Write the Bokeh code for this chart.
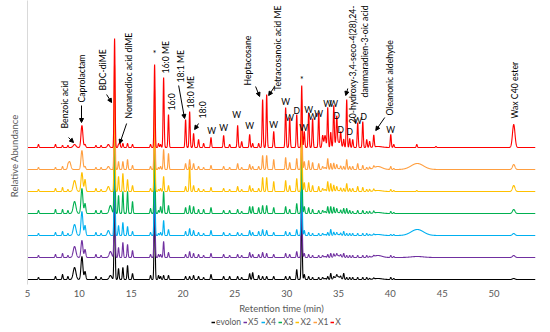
import numpy as np
from bokeh.plotting import figure
from bokeh.layouts import column
from bokeh.models import Range1d, Arrow, NormalHead, Legend, LegendItem, FixedTicker
from bokeh.core.properties import value
from bokeh.embed import file_html
from bokeh.resources import INLINE

# ---------------- data ----------------
series_names = ["evolon", "X5", "X4", "X3", "X2", "X1", "X"]
series_colors = ["#000000", "#7030A0", "#00B0F0", "#00B050", "#FFC000", "#FF9F40", "#FF0000"]

# peak retention times (min) and widths (min)
peak_rt = [6.06, 7.70, 8.38, 8.90, 9.05, 9.54, 10.25, 10.55, 11.6, 12.1, 12.8, 13.0, 13.40, 13.78, 13.9,
           14.2, 14.65, 15.13, 16.87, 17.26, 17.64, 17.84, 18.13, 18.6, 20.25, 20.64, 21.02, 21.5, 21.99,
           22.7, 23.92, 24.5, 25.27, 25.66, 26.43, 26.72, 27.3, 27.68, 28.07, 28.75, 29.90, 30.29, 30.97,
           31.45, 31.7, 32.12, 32.5, 33.09, 33.47, 33.7, 33.96, 34.25, 34.54, 34.83, 34.9, 35.21, 35.5,
           35.79, 36.08, 36.37, 36.85, 37.34, 37.72, 38.0, 38.4, 38.8, 40.04, 40.33, 42.55, 42.6, 44.4, 51.9]
peak_sigma = [0.05, 0.05, 0.05, 0.05, 0.12, 0.13, 0.09, 0.07, 0.05, 0.05, 0.1, 0.12, 0.05, 0.05, 0.05,
              0.05, 0.05, 0.05, 0.05, 0.05, 0.05, 0.05, 0.05, 0.05, 0.05, 0.05, 0.05, 0.05, 0.05,
              0.05, 0.05, 0.05, 0.05, 0.05, 0.05, 0.05, 0.05, 0.05, 0.05, 0.05, 0.05, 0.05, 0.05,
              0.05, 0.05, 0.05, 0.05, 0.05, 0.06, 0.08, 0.05, 0.05, 0.05, 0.05, 0.25, 0.05, 0.05,
              0.05, 0.05, 0.05, 0.05, 0.05, 0.05, 0.05, 0.05, 0.4, 0.05, 0.05, 0.05, 0.6, 0.05, 0.12]

h_X = [3, 3, 2, 2, 0, 3, 22, 3, 2, 2, 3, 0, 109, 3, 5,
       4, 4, 3, 3, 83, 4, 3, 70, 33, 28, 36, 14, 8, 4,
       10, 12, 3, 22, 6, 13, 4, 4, 48, 53, 16, 40, 30, 33,
       62, 16, 35, 29, 35, 12, 12, 40, 15, 40, 26, 6, 13, 8,
       48, 9, 8, 25, 26, 8, 6, 12, 1, 13, 3, 3, 0, 1, 23]
h_X1 = [2, 2, 3, 2, 8, 0, 19, 3, 2, 2, 3, 0, 105, 8, 0,
        8, 10, 4, 3, 80, 2, 3, 20, 16, 6, 10, 6, 3, 2,
        4, 3, 2, 6, 2, 5, 3, 3, 14, 14, 10, 12, 7, 11,
        70, 8, 9, 7, 6, 3, 2, 11, 6, 6, 4, 1, 3, 3,
        10, 3, 3, 6, 4, 2, 2, 2, 3, 3, 1, 0, 6, 0, 5]
h_X2 = [2, 3, 4, 2, 0, 11, 19, 12, 3, 2, 5, 0, 100, 15, 0,
        18, 12, 6, 3, 80, 2, 3, 15, 6, 5, 25, 6, 3, 2,
        4, 3, 2, 5, 2, 6, 3, 3, 14, 14, 10, 11, 6, 13,
        70, 9, 9, 6, 5, 3, 2, 10, 8, 6, 4, 1, 3, 3,
        8, 3, 3, 5, 4, 2, 2, 2, 1, 2, 1, 1, 0, 0, 6]
h_X3 = [3, 4, 4, 3, 0, 12, 25, 10, 3, 3, 0, 8, 100, 18, 0,
        22, 22, 12, 5, 80, 3, 7, 22, 8, 6, 8, 7, 4, 4,
        6, 3, 3, 4, 2, 7, 7, 6, 8, 8, 6, 7, 4, 10,
        70, 7, 6, 4, 3, 3, 2, 7, 7, 6, 4, 1, 3, 5,
        5, 3, 2, 3, 3, 2, 2, 2, 1, 2, 1, 0, 0, 0, 4]
h_X4 = [2, 3, 4, 2, 0, 11, 24, 10, 3, 2, 5, 0, 100, 10, 0,
        13, 9, 4, 3, 80, 2, 3, 15, 6, 4, 7, 5, 3, 2,
        5, 3, 2, 3, 2, 5, 3, 4, 6, 5, 3, 4, 3, 6,
        70, 5, 3, 2, 2, 2, 1, 3, 6, 3, 2, 1, 2, 4,
        2, 2, 2, 2, 2, 2, 1, 1, 1, 1, 1, 0, 6, 0, 2]
h_X5 = [2, 3, 4, 2, 0, 11, 17, 8, 3, 2, 0, 6, 100, 10, 0,
        15, 13, 7, 3, 80, 3, 3, 16, 5, 3, 6, 4, 3, 2,
        4, 3, 2, 3, 2, 5, 3, 3, 5, 4, 3, 4, 3, 6,
        70, 4, 3, 2, 2, 2, 1, 3, 4, 3, 2, 2, 2, 4,
        2, 2, 2, 2, 2, 2, 1, 1, 2, 2, 1, 0, 1, 0, 2]
h_evolon = [2, 3, 5, 3, 0, 12, 23, 8, 3, 2, 0, 4, 100, 11, 0,
            12, 14, 6, 4, 85, 4, 3, 4, 4, 3, 3, 4, 3, 2,
            5, 3, 3, 3, 2, 6, 7, 4, 3, 3, 3, 3, 3, 10,
            70, 5, 3, 2, 2, 2, 1, 3, 6, 2, 2, 3, 2, 6,
            2, 2, 2, 2, 2, 2, 1, 1, 1, 2, 1, 0, 0, 0, 1]
heights = [h_evolon, h_X5, h_X4, h_X3, h_X2, h_X1, h_X]

x_ticks = [5, 10, 15, 20, 25, 30, 35, 40, 45, 50]

# labels anchored at their lower (starting) end
label_text = ["Benzoic acid", "Caprolactam", "BDC-diME", "Nonanedioc acid diME", "16:0 ME", "16:0",
              "18:1 ME", "18:0 ME", "18:0", "Heptacosane", "Oleanonic aldehyde", "Wax C40 ester"]
label_rt = [8.57, 10.21, 12.24, 14.75, 18.32, 18.9, 19.77, 20.73, 21.9, 26.24, 39.94, 52.0]
label_y = [156, 182, 194, 166, 211, 174, 202, 176, 166, 199, 169, 166]

# labels anchored at their upper end
label2_text = ["Tetracosanoic acid ME", "20-hydroxy-3,4-seco-4(28),24-", "dammaradien-3-oic acid"]
label2_rt = [29.13, 36.37, 37.53]
label2_y = [279, 279, 279]

mark_text = ["W", "W", "W", "W", "W", "W", "W", "D", "*", "W", "W", "W", "W", "W", "W", "D", "D", "D", "W", "D", "W", "*"]
mark_rt = [22.76, 23.92, 25.17, 26.43, 28.75, 29.9, 30.29, 30.97, 31.45, 31.64, 32.12, 32.5, 33.09, 33.96, 34.54,
           34.83, 35.21, 36.08, 36.85, 37.43, 40.04, 17.26]
mark_y = [154, 157, 170, 159, 160, 183, 167, 174, 205, 157, 175, 168, 171, 181, 181, 169, 155, 153, 164, 168, 155, 231]

arrow_x0 = [8.96, 10.21, 12.63, 14.56, 19.58, 21.5, 27.0, 28.84, 35.89, 39.46]
arrow_y0 = [147, 179, 190, 161, 199, 161, 198, 198, 196, 167]
arrow_x1 = [9.44, 10.21, 13.11, 13.9, 20.15, 21.12, 27.39, 28.26, 35.7, 38.59]
arrow_y1 = [142, 162, 182, 141, 166, 155, 188, 189, 189, 154]

# ---------------- build ----------------
trace_step = 22
trace_base0 = 5
t = np.arange(5.0, 54.0001, 0.01)
rt = np.array(peak_rt)
sg = np.array(peak_sigma)

p = figure(width=550, height=316, output_backend="svg", toolbar_location=None,
           x_range=Range1d(5, 54), y_range=Range1d(0, 284),
           min_border_left=27, min_border_right=15, min_border_top=0, min_border_bottom=32)
p.outline_line_color = None
p.grid.visible = False
p.background_fill_color = "white"

for i, (name, col) in enumerate(zip(series_names, series_colors)):
    h = np.array(heights[i], dtype=float)
    sig = trace_base0 + i * trace_step + (h[:, None] * np.exp(-0.5 * ((t[None, :] - rt[:, None]) / sg[:, None]) ** 2)).sum(axis=0)
    p.line(t, sig, line_color=col, line_width=1.1)

lab_font = value("Lato")
p.text(x=label_rt, y=label_y, text=label_text, angle=np.pi / 2, text_align="left", text_baseline="middle",
       text_font=lab_font, text_font_size="8.7px", text_color="black")
p.text(x=label2_rt, y=label2_y, text=label2_text, angle=np.pi / 2, text_align="right", text_baseline="middle",
       text_font=lab_font, text_font_size="8.7px", text_color="black")
p.text(x=mark_rt, y=mark_y, text=mark_text, text_align="center", text_baseline="middle",
       text_font=lab_font, text_font_size="8.5px", text_color="black")

for x0, y0, x1, y1 in zip(arrow_x0, arrow_y0, arrow_x1, arrow_y1):
    p.add_layout(Arrow(end=NormalHead(size=4, line_color="black", fill_color="black", line_width=1),
                       x_start=x0, y_start=y0, x_end=x1, y_end=y1, line_color="black", line_width=1))

p.xaxis.ticker = FixedTicker(ticks=x_ticks)
p.xaxis.axis_line_color = None
p.xaxis.major_tick_line_color = None
p.xaxis.minor_tick_line_color = None
p.xaxis.major_tick_out = 0
p.xaxis.major_tick_in = 0
p.xaxis.major_label_standoff = 5
p.xaxis.major_label_text_font = "Lato"
p.xaxis.major_label_text_font_size = "9.5px"
p.xaxis.major_label_text_color = "#595959"
p.xaxis.axis_label = "Retention time (min)"
p.xaxis.axis_label_text_font = "Lato"
p.xaxis.axis_label_text_font_size = "9.5px"
p.xaxis.axis_label_text_font_style = "normal"
p.xaxis.axis_label_text_color = "#595959"
p.xaxis.axis_label_standoff = 3

p.yaxis.ticker = FixedTicker(ticks=[])
p.yaxis.axis_line_color = "#D9D9D9"
p.yaxis.major_tick_line_color = None
p.yaxis.minor_tick_line_color = None
p.yaxis.axis_label = "Relative Abundance" + "\u00a0" * 11
p.yaxis.axis_label_text_font = "Lato"
p.yaxis.axis_label_text_font_size = "9.5px"
p.yaxis.axis_label_text_font_style = "normal"
p.yaxis.axis_label_text_color = "#595959"
p.yaxis.axis_label_standoff = 8

# legend strip below the chart
pl = figure(width=550, height=16, output_backend="svg", toolbar_location=None,
            x_range=Range1d(0, 1), y_range=Range1d(0, 1), x_axis_type=None, y_axis_type=None,
            min_border_left=0, min_border_right=0, min_border_top=0, min_border_bottom=0)
pl.outline_line_color = None
pl.grid.visible = False
leg_rs = [pl.line([5, 6], [5, 6], line_color=c, line_width=1.5) for c in series_colors]
legend = Legend(items=[LegendItem(label=n, renderers=[r]) for n, r in zip(series_names, leg_rs)],
                orientation="horizontal", location=(184, 5), glyph_width=4, glyph_height=10,
                label_standoff=1, spacing=2, padding=0, margin=0, border_line_color=None,
                label_text_font="Lato", label_text_font_size="8.5px", label_text_color="#595959",
                label_height=10, label_width=5, background_fill_alpha=0)
pl.add_layout(legend, "center")

open("out.html", "w").write(file_html(column(p, pl, spacing=0), INLINE))
